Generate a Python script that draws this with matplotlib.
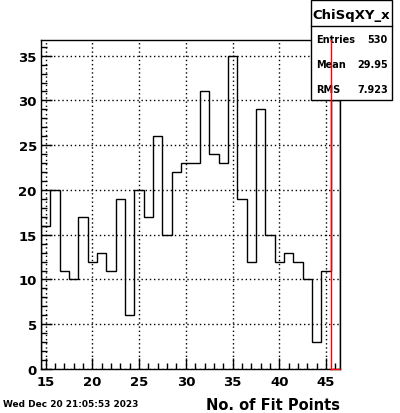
import matplotlib
matplotlib.use('Agg')
import matplotlib.pyplot as plt
from matplotlib.patches import Rectangle
from matplotlib.ticker import MultipleLocator
import numpy as np

# bin centres 15..46, unit width
bin_centres = np.arange(15, 47)
counts = [16, 20, 11, 10, 17, 12, 13, 11, 19, 6, 20, 17, 26, 15, 22, 23,
          23, 31, 24, 23, 35, 19, 12, 29, 15, 12, 13, 12, 10, 3, 11, 30]
cut_x = 45.5
stats_names = ['Entries', 'Mean', 'RMS']
stats_vals = ['530', '29.95', '7.923']

plt.rcParams['font.family'] = 'DejaVu Sans'
plt.rcParams['font.weight'] = 'bold'

fig = plt.figure(figsize=(4, 4.14), dpi=100)
W, H = 400, 414
ax = fig.add_axes([41 / W, 44 / H, 299 / W, 329 / H])

edges = np.append(bin_centres - 0.5, bin_centres[-1] + 0.5)
ax.stairs(counts, edges, baseline=0, fill=False, color='black', lw=1, zorder=3)

ax.set_xlim(edges[0], edges[-1])
ax.set_ylim(0, 1.05 * max(counts))
ax.xaxis.set_major_locator(MultipleLocator(5))
ax.xaxis.set_minor_locator(MultipleLocator(1))
ax.yaxis.set_major_locator(MultipleLocator(5))
ax.yaxis.set_minor_locator(MultipleLocator(1))
ax.tick_params(which='major', direction='in', length=8, width=1,
               labelsize=9.5, top=False, right=False)
ax.tick_params(which='minor', direction='in', length=4, width=1,
               top=False, right=False)
ax.tick_params(axis='x', pad=4)
ax.tick_params(axis='y', pad=3)
for lbl in ax.get_xticklabels() + ax.get_yticklabels():
    lbl.set_fontweight('bold')
ax.grid(which='major', linestyle=(0, (1, 2)), color='black', lw=1)
for s in ax.spines.values():
    s.set_linewidth(1)

ax.set_xlabel('No. of Fit Points', fontsize=10.5, fontweight='bold', loc='right')
ax.xaxis.set_label_coords(1.0, -0.085)

# cut marker
ymax = ax.get_ylim()[1]
ax.plot([cut_x, cut_x], [0, ymax], color='red', lw=1, zorder=8, clip_on=False)
ax.plot([cut_x, edges[-1]], [0, 0], color='red', lw=1, zorder=8, clip_on=False)

# stats box
tf = fig.transFigure
bx0, bx1, by0, by1 = 311 / W, 392 / W, 1 - 101 / H, 1 - 1 / H
ax.add_patch(Rectangle((bx0, by0), bx1 - bx0, by1 - by0, transform=tf,
                       facecolor='white', edgecolor='black', lw=1,
                       zorder=5.5, clip_on=False))
ax.plot([bx0, bx1], [1 - 27 / H] * 2, transform=tf, color='black', lw=1,
        zorder=6, clip_on=False)
ax.text((bx0 + bx1) / 2, 1 - 15 / H, 'ChiSqXY_x', transform=tf, ha='center',
        va='center', fontsize=9.5, fontweight='bold', zorder=7)
for i, (n, v) in enumerate(zip(stats_names, stats_vals)):
    y = 1 - (40 + 25 * i) / H
    ax.text(316 / W, y, n, transform=tf, ha='left', va='center',
            fontsize=7, fontweight='bold', zorder=7)
    ax.text(388 / W, y, v, transform=tf, ha='right', va='center',
            fontsize=7, fontweight='bold', zorder=7)

fig.text(3 / W, 1 - 405 / H, 'Wed Dec 20 21:05:53 2023', ha='left',
         va='center', fontsize=6.5, fontweight='bold')

fig.savefig('out.png', dpi=100, facecolor='white')
